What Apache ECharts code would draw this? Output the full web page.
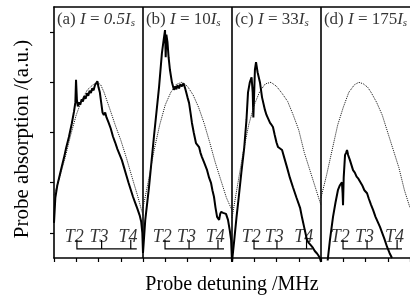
<!DOCTYPE html>
<html><head><meta charset="utf-8">
<script src="https://cdn.jsdelivr.net/npm/echarts@6/dist/echarts.min.js"></script>
<style>html,body{margin:0;padding:0;background:#fff}#c{width:410px;height:302px}</style>
</head><body><div id="c"></div>
<script>
// ---- data ----
const panelLetters = ['(a)', '(b)', '(c)', '(d)'];
const intensities = ['0.5', '10', '33', '175'];
const intensityItalic = [true, false, false, false];
const panelStarts = [0, 4, 8, 12];
const dividers = [4, 8, 12];
const tickLabels = ['T2', 'T3', 'T4'];
const bracketT2 = [1.03, 4.99, 8.99, 12.99];
const bracketT3 = [2.14, 6.07, 10.02, 14.07];
const bracketT4 = [3.45, 7.37, 11.35, 15.42];
const bracketEnd = [3.72, 7.64, 11.62, 15.64];
const yTicks = [0.5, 1.5, 2.5, 3.5, 4.5];

const solidA = [[0.0,0.7],[0.06,1.2],[0.15,1.45],[0.31,1.75],[0.45,2.0],[0.55,2.2],[0.67,2.41],[0.8,2.68],[0.9,2.92],[0.96,3.1],[0.99,3.55],[1.03,3.15],[1.07,3.02],[1.12,3.1],[1.18,3.05],[1.24,3.16],[1.3,3.12],[1.36,3.22],[1.42,3.17],[1.48,3.28],[1.54,3.23],[1.6,3.33],[1.66,3.29],[1.72,3.38],[1.78,3.34],[1.84,3.44],[1.9,3.41],[1.95,3.52],[2.0,3.4],[2.06,3.3],[2.12,3.1],[2.18,2.9],[2.24,2.85],[2.3,2.9],[2.36,2.8],[2.45,2.7],[2.55,2.58],[2.65,2.42],[2.75,2.3],[2.85,2.17],[2.95,2.06],[3.05,1.95],[3.15,1.8],[3.25,1.65],[3.35,1.5],[3.45,1.36],[3.55,1.22],[3.65,1.1],[3.75,0.98],[3.85,0.85],[3.92,0.72],[3.97,0.5],[4.0,0.1]];
const solidB = [[4.0,0.1],[4.1,0.75],[4.27,1.41],[4.49,2.41],[4.72,3.4],[4.85,4.08],[4.93,4.35],[4.99,4.54],[5.02,4.0],[5.05,4.45],[5.1,4.3],[5.15,4.0],[5.21,3.75],[5.3,3.5],[5.39,3.35],[5.45,3.42],[5.5,3.36],[5.55,3.44],[5.62,3.38],[5.68,3.46],[5.75,3.42],[5.82,3.48],[5.88,3.4],[5.93,3.32],[6.0,3.2],[6.07,3.09],[6.14,2.88],[6.2,2.69],[6.28,2.5],[6.38,2.29],[6.45,2.25],[6.52,2.21],[6.58,2.1],[6.65,2.01],[6.75,1.9],[6.88,1.75],[6.97,1.6],[7.06,1.49],[7.12,1.35],[7.19,1.22],[7.26,1.0],[7.33,0.82],[7.42,0.76],[7.47,0.88],[7.51,0.92],[7.6,0.9],[7.68,0.92],[7.73,0.88],[7.82,0.76],[7.9,0.55],[7.96,0.36],[8.0,-0.08]];
const solidC = [[8.0,-0.08],[8.1,0.35],[8.2,0.8],[8.3,1.2],[8.42,1.7],[8.55,2.2],[8.65,2.75],[8.72,3.3],[8.8,3.5],[8.88,3.6],[8.93,3.3],[8.96,2.8],[8.99,3.2],[9.03,3.75],[9.08,3.9],[9.15,3.7],[9.26,3.49],[9.35,3.2],[9.48,2.95],[9.55,2.85],[9.62,2.78],[9.71,2.69],[9.78,2.65],[9.84,2.61],[9.92,2.45],[10.0,2.3],[10.07,2.21],[10.15,2.2],[10.25,2.15],[10.36,1.98],[10.47,1.81],[10.6,1.6],[10.74,1.41],[10.9,1.2],[11.06,1.0],[11.15,0.8],[11.25,0.6],[11.37,0.36],[11.45,0.3],[11.55,0.25],[11.64,0.2],[11.72,0.14],[11.8,0.1],[11.87,0.06],[11.95,0.0],[12.0,-0.08]];
const solidD = [[12.3,-0.05],[12.4,0.35],[12.54,0.82],[12.65,1.1],[12.76,1.35],[12.85,1.45],[12.94,1.51],[12.97,1.3],[12.99,1.05],[13.02,1.6],[13.08,2.05],[13.13,2.1],[13.17,2.15],[13.22,2.05],[13.3,1.95],[13.37,1.85],[13.44,1.75],[13.52,1.7],[13.6,1.62],[13.68,1.58],[13.75,1.55],[13.85,1.45],[13.95,1.35],[14.07,1.29],[14.15,1.18],[14.25,1.06],[14.34,0.96],[14.45,0.82],[14.55,0.72],[14.65,0.62],[14.75,0.5],[14.85,0.38],[14.97,0.22],[15.08,0.1],[15.19,0.0]];

const dottedA = [[0,1.25],[0.25,1.6],[0.5,2.0],[0.75,2.45],[1.0,2.85],[1.25,3.15],[1.5,3.35],[1.75,3.45],[1.95,3.5],[2.1,3.45],[2.25,3.3],[2.5,2.98],[2.75,2.65],[3.0,2.35],[3.25,2.0],[3.5,1.62],[3.75,1.25],[4.0,0.85]];
const dottedB = [[4.0,1.0],[4.25,1.55],[4.5,2.15],[4.75,2.65],[5.0,3.05],[5.25,3.3],[5.5,3.46],[5.75,3.5],[6.0,3.42],[6.25,3.25],[6.5,3.0],[6.75,2.68],[7.0,2.3],[7.25,1.9],[7.5,1.55],[7.75,1.2],[8.0,0.95]];
const dottedC = [[8.0,0.8],[8.25,1.45],[8.5,2.1],[8.75,2.65],[9.0,3.05],[9.25,3.32],[9.5,3.47],[9.75,3.5],[10.0,3.42],[10.25,3.28],[10.5,3.12],[10.75,2.85],[11.0,2.55],[11.25,2.1],[11.5,1.75],[11.75,1.4],[12.0,1.05]];
const dottedD = [[12.0,1.2],[12.25,1.65],[12.5,2.15],[12.75,2.65],[13.0,3.0],[13.25,3.3],[13.5,3.45],[13.7,3.5],[13.9,3.47],[14.1,3.4],[14.25,3.3],[14.5,3.1],[14.75,2.85],[15.0,2.5],[15.25,2.15],[15.5,1.8],[15.75,1.35],[16.0,1.0]];

// ---- chart ----
const FONT = 'Liberation Serif';
const chart = echarts.init(document.getElementById('c'));
const black = '#000';
const series = [];

[solidA, solidB, solidC, solidD].forEach(d => series.push({
  type: 'line', data: d, symbol: 'none', clip: false, animation: false, silent: true,
  lineStyle: { color: black, width: 2 }
}));
[dottedA, dottedB, dottedC, dottedD].forEach(d => series.push({
  type: 'line', data: d, symbol: 'none', animation: false, silent: true,
  lineStyle: { color: '#111', width: 1, type: [1, 1] }
}));

// dividers
series.push({
  type: 'lines', coordinateSystem: 'cartesian2d', animation: false, silent: true,
  lineStyle: { color: black, width: 1.6, opacity: 1 },
  data: dividers.map(x => ({ coords: [[x, 0], [x, 5]] }))
});

// brackets
const bBase = 0.18, bTop = 0.36;
const bracketData = [];
for (let i = 0; i < 4; i++) {
  bracketData.push({ coords: [[bracketT2[i], bTop], [bracketT2[i], bBase], [bracketEnd[i], bBase]] });
  bracketData.push({ coords: [[bracketT3[i], bTop], [bracketT3[i], bBase]] });
  bracketData.push({ coords: [[bracketT4[i], bTop], [bracketT4[i], bBase]] });
}
series.push({
  type: 'lines', coordinateSystem: 'cartesian2d', polyline: true, animation: false, silent: true,
  lineStyle: { color: black, width: 1.2, opacity: 1 },
  data: bracketData
});

// T labels
const tData = [];
for (let i = 0; i < 4; i++) {
  [bracketT2[i], bracketT3[i], bracketT4[i]].forEach((x, k) => tData.push({ value: [x - 0.12, 0.41], name: tickLabels[k] }));
}
series.push({
  type: 'scatter', data: tData, symbolSize: 0, animation: false, silent: true,
  label: { show: true, position: 'inside', formatter: p => p.name,
    fontFamily: FONT, fontStyle: 'italic', fontSize: 18, color: black }
});

// panel titles
const titleData = panelStarts.map((s, i) => ({ value: [s + 0.13, 4.76], name: String(i) }));
const rich = {
  r: { fontFamily: FONT, fontSize: 17, color: black, lineHeight: 20 },
  i: { fontFamily: FONT, fontSize: 17, fontStyle: 'italic', color: black, lineHeight: 20 },
  s: { fontFamily: FONT, fontSize: 11, fontStyle: 'italic', color: black, lineHeight: 11, verticalAlign: 'bottom' }
};
series.push({
  type: 'scatter', data: titleData, symbolSize: 0, animation: false, silent: true,
  label: { show: true, position: 'right', distance: 0, rich,
    formatter: p => {
      const i = +p.name;
      const num = intensityItalic[i] ? '{i|' + intensities[i] + 'I}' : '{r|' + intensities[i] + '}{i|I}';
      return '{r|' + panelLetters[i] + ' }{i|I}{r| = }' + num + '{s|s}';
    } }
});

chart.setOption({
  animation: false,
  backgroundColor: '#fff',
  grid: { left: 54, top: 7, width: 356, height: 251, outerBoundsMode: 'none', containLabel: false },
  xAxis: [
    { type: 'value', min: 0, max: 16, interval: 1, position: 'bottom',
      axisLine: { show: true, lineStyle: { color: black, width: 1.6 } },
      axisTick: { show: true, inside: false, length: 4, lineStyle: { color: black, width: 1.2 } },
      axisLabel: { show: false }, splitLine: { show: false } },
    { type: 'value', min: 0, max: 16, interval: 1, position: 'top',
      axisLine: { show: true, lineStyle: { color: black, width: 1.6 } },
      axisTick: { show: false }, axisLabel: { show: false }, splitLine: { show: false } }
  ],
  yAxis: { type: 'value', min: 0, max: 5,
    axisLine: { show: true, lineStyle: { color: black, width: 1.6 } },
    axisTick: { show: true, inside: false, length: 4, customValues: yTicks, lineStyle: { color: black, width: 1.2 } },
    axisLabel: { show: false }, splitLine: { show: false } },
  graphic: [
    { type: 'text', x: 232, y: 285,
      style: { text: 'Probe detuning /MHz', fontFamily: FONT, fontSize: 20, fill: black, align: 'center', verticalAlign: 'middle' } },
    { type: 'text', x: 22, y: 139, rotation: Math.PI / 2,
      style: { text: 'Probe absorption /(a.u.)', fontFamily: FONT, fontSize: 21, fill: black, align: 'center', verticalAlign: 'middle' } }
  ],
  series
});
</script></body></html>
